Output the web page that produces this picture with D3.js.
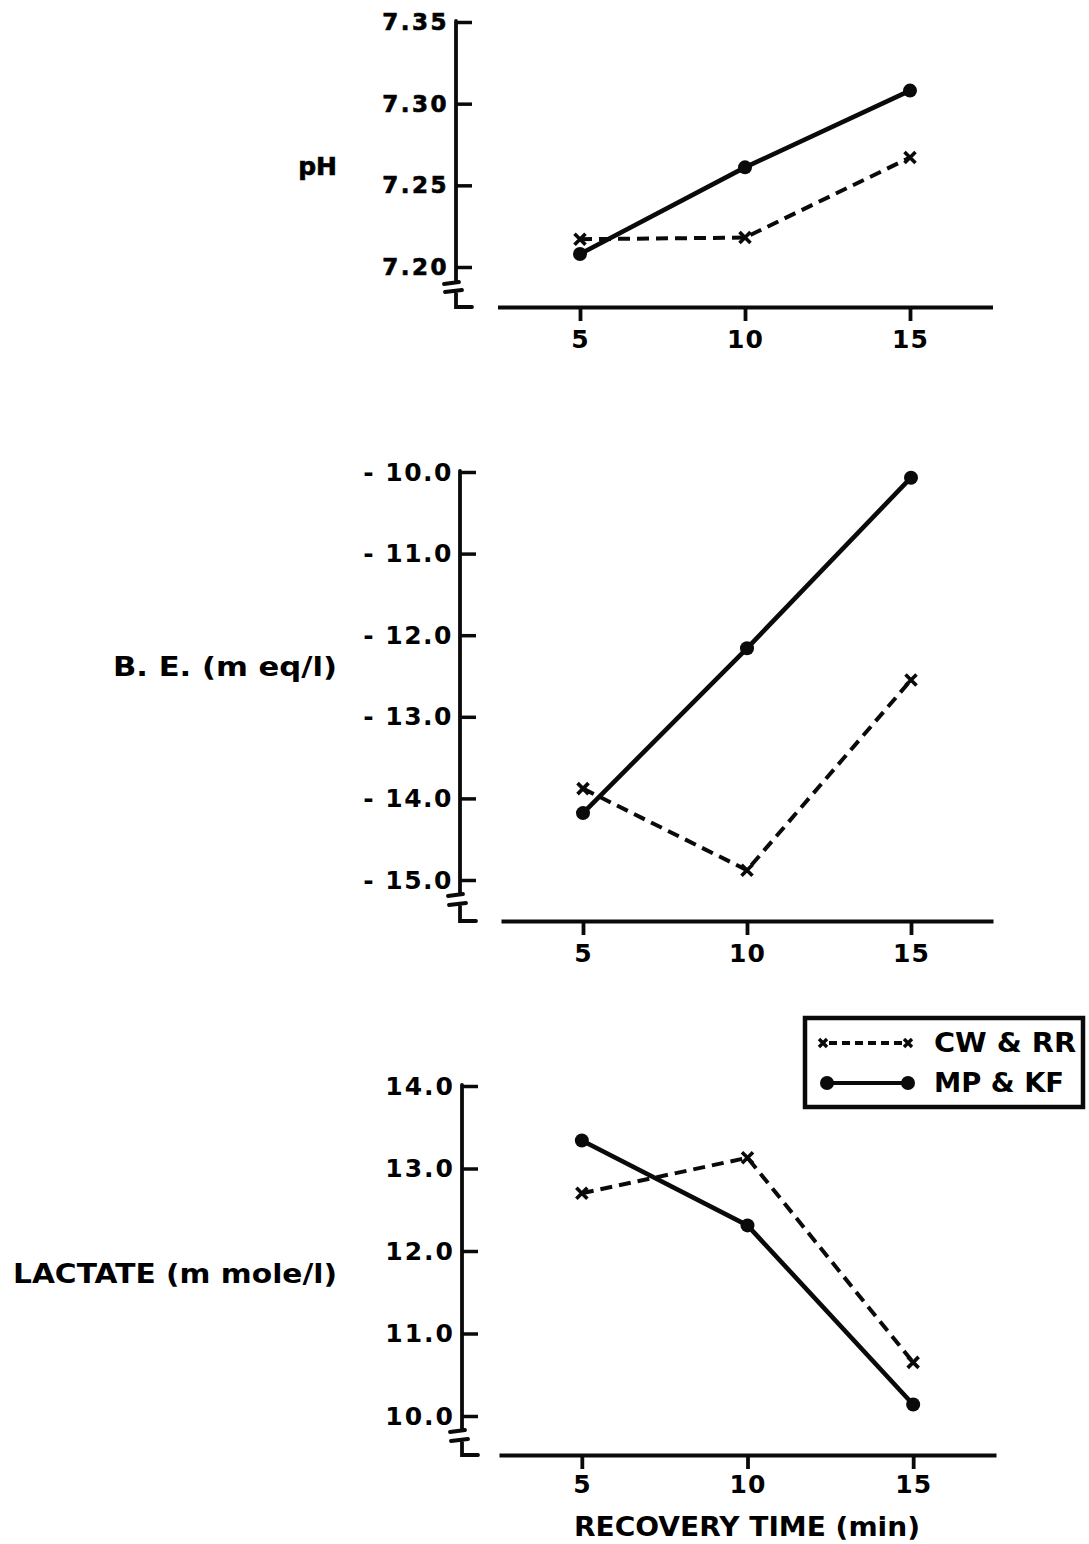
<!DOCTYPE html>
<html><head><meta charset="utf-8">
<script src="https://cdn.jsdelivr.net/npm/d3@7"></script>
<style>
html,body{margin:0;padding:0;background:#fff;}
svg{display:block;}
text{font-family:"DejaVu Sans",sans-serif;font-weight:bold;fill:#000;}
</style></head>
<body>
<svg id="chart" width="1089" height="1544"></svg>
<script>
// ---- data ----
const xValues = [5, 10, 15];
const xTickLabels = ["5", "10", "15"];
const seriesNames = ["CW & RR", "MP & KF"];

const phCW = [7.217, 7.218, 7.267];
const phMP = [7.208, 7.261, 7.308];
const phTicks = [7.20, 7.25, 7.30, 7.35];
const phTickLabels = ["7.20", "7.25", "7.30", "7.35"];

const beCW = [-13.88, -14.88, -12.55];
const beMP = [-14.18, -12.16, -10.07];
const beTicks = [-15, -14, -13, -12, -11, -10];
const beTickLabels = ["- 15.0", "- 14.0", "- 13.0", "- 12.0", "- 11.0", "- 10.0"];

const lacCW = [12.70, 13.13, 10.65];
const lacMP = [13.34, 12.31, 10.14];
const lacTicks = [10, 11, 12, 13, 14];
const lacTickLabels = ["10.0", "11.0", "12.0", "13.0", "14.0"];

const yTitles = ["pH", "B. E.  (m eq/l)", "LACTATE  (m mole/l)"];
const xTitle = "RECOVERY  TIME  (min)";

// ---- layout ----
const svg = d3.select("#chart");
const ink = "#0a0a0a";

const panels = [
  {cw: phCW, mp: phMP, ticks: phTicks, labels: phTickLabels, title: yTitles[0],
   axisX: 456, yTop: 22, yBot: 267, xAxisY: 307, xl: 497.5, xr: 992.5, b1: 282, b2: 291,
   titleY: 168, titleLen: null, labW: "normal", labSize: 23, labLS: 2.5, labStroke: 0.7, xLabDy: 34},
  {cw: beCW, mp: beMP, ticks: beTicks, labels: beTickLabels, title: yTitles[1],
   axisX: 460, yTop: 472, yBot: 880, xAxisY: 921, xl: 501, xr: 993, b1: 894, b2: 904,
   titleY: 668, titleLen: 224, labW: "bold", labSize: 25, labLS: 1.5, labStroke: 0, xLabDy: 34},
  {cw: lacCW, mp: lacMP, ticks: lacTicks, labels: lacTickLabels, title: yTitles[2],
   axisX: 462, yTop: 1086, yBot: 1416, xAxisY: 1455, xl: 499, xr: 996, b1: 1430, b2: 1440,
   titleY: 1275, titleLen: 324, labW: "bold", labSize: 25, labLS: 2, labStroke: 0, xLabDy: 31}
];

panels.forEach((p, i) => {
  const dom = d3.extent(p.ticks);
  const y = d3.scaleLinear().domain(dom).range([p.yBot, p.yTop]);
  const x = d3.scaleLinear().domain([2.5, 17.5]).range([p.xl, p.xr]);
  const g = svg.append("g");

  // y axis (ticks pointing right)
  const yAxis = d3.axisLeft(y).tickValues(p.ticks)
    .tickFormat(d => p.labels[p.ticks.indexOf(d)])
    .tickSizeInner(-16).tickSizeOuter(0).tickPadding(7);
  const ya = g.append("g").attr("transform", `translate(${p.axisX},0)`).call(yAxis);
  ya.select(".domain").remove();
  ya.selectAll(".tick line").attr("stroke", ink).attr("stroke-width", 3.5);
  ya.selectAll(".tick text").attr("font-size", p.labSize).attr("font-weight", p.labW)
    .attr("font-family", "DejaVu Sans").attr("letter-spacing", p.labLS).attr("fill", ink)
    .attr("stroke", p.labStroke ? ink : "none").attr("stroke-width", p.labStroke);

  // y axis line with break
  g.append("path")
    .attr("d", `M${p.axisX},${p.yTop - 1}V${p.b1}M${p.axisX - 12},${p.b1 + 2}L${p.axisX + 3},${p.b1}` +
               `M${p.axisX - 11},${p.b2 + 1}L${p.axisX + 6},${p.b2 - 1}M${p.axisX},${p.b2}V${p.xAxisY}H${p.axisX + 16}`)
    .attr("fill", "none").attr("stroke", ink).attr("stroke-width", 3.8).attr("stroke-linecap", "round");

  // x axis
  const xAxis = d3.axisBottom(x).tickValues(xValues)
    .tickFormat(d => xTickLabels[xValues.indexOf(d)])
    .tickSizeInner(14).tickSizeOuter(0).tickPadding(9);
  const xa = g.append("g").attr("transform", `translate(0,${p.xAxisY})`).call(xAxis);
  xa.select(".domain").attr("stroke", ink).attr("stroke-width", 3.8);
  xa.selectAll(".tick line").attr("stroke", ink).attr("stroke-width", 3.8);
  xa.selectAll(".tick text").attr("font-size", 25).attr("font-family", "DejaVu Sans")
    .attr("font-weight", "bold").attr("letter-spacing", 1).attr("fill", ink)
    .attr("dy", null).attr("y", p.xLabDy).attr("dominant-baseline", "middle");

  // y title
  const t = g.append("text").attr("x", 337).attr("y", p.titleY)
    .attr("text-anchor", "end").attr("dominant-baseline", "middle")
    .attr("font-size", i === 0 ? 25 : 26).attr("font-weight", i === 0 ? "normal" : "bold")
    .attr("stroke", i === 0 ? ink : "none").attr("stroke-width", i === 0 ? 0.7 : 0)
    .text(p.title);
  if (p.titleLen) t.attr("textLength", p.titleLen).attr("lengthAdjust", "spacingAndGlyphs");

  // series
  const line = d3.line().x((d, j) => x(xValues[j])).y(d => y(d));
  g.append("path").datum(p.cw).attr("d", line).attr("fill", "none")
    .attr("stroke", ink).attr("stroke-width", 4).attr("stroke-dasharray", "12,7");
  g.append("path").datum(p.mp).attr("d", line).attr("fill", "none")
    .attr("stroke", ink).attr("stroke-width", 4.6);
  g.selectAll("circle.mp").data(p.mp).enter().append("circle")
    .attr("cx", (d, j) => x(xValues[j])).attr("cy", d => y(d)).attr("r", 7).attr("fill", ink);
  g.selectAll("path.cwm").data(p.cw).enter().append("path")
    .attr("d", (d, j) => {
      const cx = x(xValues[j]), cy = y(d), s = 5.5;
      return `M${cx - s},${cy - s}L${cx + s},${cy + s}M${cx + s},${cy - s}L${cx - s},${cy + s}`;
    })
    .attr("stroke", ink).attr("stroke-width", 3.6).attr("fill", "none");
});

// x title
svg.append("text").attr("x", 747).attr("y", 1528).attr("text-anchor", "middle")
  .attr("dominant-baseline", "middle").attr("font-size", 26)
  .attr("textLength", 346).attr("lengthAdjust", "spacingAndGlyphs").text(xTitle);

// legend
const lg = svg.append("g");
lg.append("rect").attr("x", 805).attr("y", 1018).attr("width", 278).attr("height", 89)
  .attr("fill", "none").attr("stroke", ink).attr("stroke-width", 4.5);
// row 1
lg.append("line").attr("x1", 829).attr("x2", 902).attr("y1", 1043).attr("y2", 1043)
  .attr("stroke", ink).attr("stroke-width", 3.8).attr("stroke-dasharray", "8,5");
[823, 908].forEach(cx => {
  lg.append("path").attr("d", `M${cx - 4},1039L${cx + 4},1047M${cx + 4},1039L${cx - 4},1047`)
    .attr("stroke", ink).attr("stroke-width", 3.4);
});
lg.append("text").attr("x", 934).attr("y", 1044).attr("dominant-baseline", "middle")
  .attr("font-size", 26).attr("textLength", 142).attr("lengthAdjust", "spacingAndGlyphs").text(seriesNames[0]);
// row 2
lg.append("line").attr("x1", 827).attr("x2", 908).attr("y1", 1083).attr("y2", 1083)
  .attr("stroke", ink).attr("stroke-width", 3.8);
[827, 908].forEach(cx => {
  lg.append("circle").attr("cx", cx).attr("cy", 1083).attr("r", 7).attr("fill", ink);
});
lg.append("text").attr("x", 934).attr("y", 1084).attr("dominant-baseline", "middle")
  .attr("font-size", 26).attr("textLength", 130).attr("lengthAdjust", "spacingAndGlyphs").text(seriesNames[1]);
</script>
</body></html>
